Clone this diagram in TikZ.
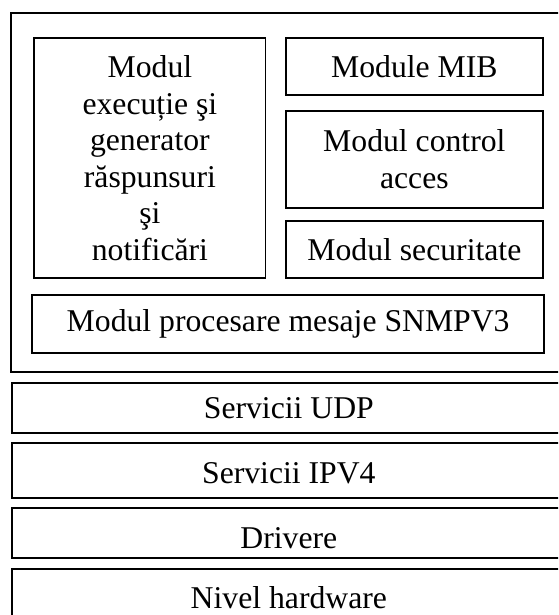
\documentclass[tikz,border=0pt]{standalone}
\usepackage{fontspec}
\setmainfont{Liberation Serif}
\begin{document}
\begin{tikzpicture}[x=1pt,y=-1pt,
  layer/.style={draw=black, line width=1.7pt, inner sep=0pt, align=center,
    font=\fontsize{31.7}{36.5}\selectfont},
]
\path[use as bounding box] (0,0) rectangle (558,615);
\clip (0,0) rectangle (558,615);

% SNMP entity container
\node[layer, minimum width=554, minimum height=358.4] (entity) at (288,192.5) {};

% inner modules
\node[layer, minimum width=231.2, minimum height=240.6] (exec) at (149.9,158)
  {Modul\\execuție şi\\generator\\răspunsuri\\şi\\notificări};
\node[layer, minimum width=257.3, minimum height=57.3] (mib) at (414.35,66.35)
  {Module MIB};
\node[layer, minimum width=257.3, minimum height=96.7] (acc) at (414.35,159.35)
  {Modul control\\acces};
\node[layer, minimum width=257.3, minimum height=56.7] (sec) at (414.35,249.35)
  {Modul securitate};
\node[layer, minimum width=511.7, minimum height=58.3] (proc) at (288.15,324.15)
  {Modul procesare mesaje SNMPV3};

% protocol stack below
\node[layer, minimum width=554.3, minimum height=50.6] (udp) at (288.85,408)
  {Servicii UDP};
\node[layer, minimum width=554.3, minimum height=55, text height=26pt, text depth=0pt]
  (ip) at (288.85,470.8) {Servicii IPV4};
\node[layer, minimum width=554.3, minimum height=50, text height=30pt, text depth=0pt]
  (drv) at (288.85,533.3) {Drivere};
\node[layer, minimum width=554.3, minimum height=50.7, text height=27pt, text depth=0pt]
  (hw) at (288.85,594.65) {Nivel hardware};
\end{tikzpicture}
\end{document}
